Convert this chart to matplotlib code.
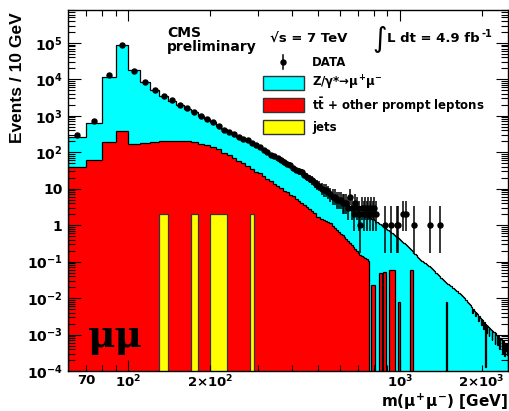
import numpy as np
import matplotlib
matplotlib.use('Agg')
import matplotlib.pyplot as plt
from matplotlib.patches import Rectangle
from matplotlib.lines import Line2D
from matplotlib.ticker import FixedLocator, LogLocator, FuncFormatter, NullFormatter

plt.rcParams['font.family'] = ['DejaVu Sans']
plt.rcParams['font.weight'] = 'bold'
plt.rcParams['mathtext.fontset'] = 'custom'
plt.rcParams['mathtext.rm'] = 'DejaVu Sans:bold'
plt.rcParams['mathtext.it'] = 'DejaVu Sans:bold'
plt.rcParams['mathtext.bf'] = 'DejaVu Sans:bold'

# binning: 10 GeV bins from 60 to 2500 GeV
m_lo, m_hi, bin_width = 60, 2500, 10

# log10 of the full stack (Z/gamma* + ttbar + jets), one value per bin starting at 60 GeV
tot_log = [
    2.42, 2.80, 4.06, 4.93, 4.25, 3.92, 3.70, 3.55, 3.42, 3.30,
    3.20, 3.10, 3.00, 2.90, 2.82, 2.72, 2.64, 2.56, 2.49, 2.43,
    2.37, 2.31, 2.25, 2.19, 2.12, 2.05, 1.99, 1.94, 1.89, 1.84,
    1.79, 1.75, 1.69, 1.63, 1.57, 1.52, 1.47, 1.42, 1.38, 1.33,
    1.28, 1.22, 1.16, 1.11, 1.07, 1.03, 0.98, 0.95, 0.90, 0.86,
    0.82, 0.78, 0.75, 0.71, 0.68, 0.64, 0.61, 0.58, 0.55, 0.52,
    0.49, 0.47, 0.44, 0.42, 0.39, 0.36, 0.34, 0.31, 0.29, 0.26,
    0.23, 0.21, 0.18, 0.16, 0.13, 0.10, 0.08, 0.05, 0.02, 0.00,
    -0.03, -0.05, -0.08, -0.11, -0.13, -0.16, -0.19, -0.21, -0.24, -0.27,
    -0.29, -0.32, -0.35, -0.37, -0.40, -0.43, -0.46, -0.49, -0.51, -0.54,
    -0.57, -0.60, -0.63, -0.66, -0.69, -0.72, -0.75, -0.78, -0.80, -0.83,
    -0.86, -0.89, -0.92, -0.95, -0.97, -0.99, -1.01, -1.03, -1.05, -1.07,
    -1.09, -1.11, -1.13, -1.15, -1.17, -1.20, -1.22, -1.25, -1.27, -1.30,
    -1.32, -1.35, -1.37, -1.40, -1.42, -1.44, -1.46, -1.48, -1.50, -1.52,
    -1.54, -1.56, -1.58, -1.60, -1.62, -1.64, -1.65, -1.67, -1.68, -1.70,
    -1.72, -1.73, -1.75, -1.76, -1.78, -1.80, -1.81, -1.83, -1.85, -1.87,
    -1.88, -1.90, -1.92, -1.94, -1.96, -1.98, -2.00, -2.02, -2.04, -2.06,
    -2.08, -2.10, -2.13, -2.15, -2.17, -2.19, -2.22, -2.24, -2.26, -2.40,
    -2.30, -2.33, -2.35, -2.50, -2.39, -2.41, -2.43, -2.45, -2.62, -2.49,
    -2.50, -2.52, -2.54, -2.75, -2.58, -2.60, -2.62, -2.85, -2.66, -2.68,
    -3.90, -2.71, -2.95, -2.75, -2.76, -2.78, -3.05, -2.81, -2.82, -2.84,
    -2.85, -2.87, -3.15, -2.90, -2.91, -2.93, -2.94, -3.25, -2.97, -2.98,
    -3.00, -3.01, -3.30, -3.04, -3.05, -3.06, -3.40, -3.09, -3.10, -3.12,
    -3.13, -3.14, -3.50, -3.17, -3.18, -3.19, -3.60, -3.22, -3.23, -3.24,
    -3.45, -3.26, -3.55, -3.29,
]

# log10 of ttbar + jets (None = empty bin)
ttbar_log = [
    1.60, 1.78, 2.27, 2.58, 2.24, 2.26, 2.28, 2.31, 2.32, 2.31,
    2.30, 2.27, 2.24, 2.19, 2.14, 2.08, 1.98, 1.92, 1.85, 1.76,
    1.70, 1.62, 1.55, 1.45, 1.43, 1.35, 1.28, 1.20, 1.14, 1.08,
    1.02, 0.95, 0.90, 0.82, 0.80, 0.72, 0.66, 0.62, 0.55, 0.50,
    0.44, 0.40, 0.33, 0.23, 0.22, 0.18, 0.15, 0.12, 0.10, 0.05,
    -0.02, -0.08, -0.12, -0.20, -0.23, -0.28, -0.33, -0.38, -0.44, -0.50,
    -0.55, -0.60, -0.65, -0.70, -0.76, -0.82, -0.85, -0.88, -0.90, -0.93,
    -0.98, None, -1.64, -1.64, -1.64, None, None, None, -1.30, -1.30,
    None, -1.28, -1.28, None, None, -1.23, -1.23, -1.23, -1.23, -1.23,
    None, None, -2.10, -2.10, None, None, None, None, None, None,
    None, None, None, -1.23, -1.23, -1.23, None, None, None, None,
    None, None, None, None, None, None, None, None, None, None,
    None, None, None, None, None, None, None, None, None, None,
    None, None, None, None, None, None, None, None, None, None,
    None, None, -2.10,
]

# jets: bins (lower edge, GeV) and content
jets_bins = [130, 170, 200, 210, 220, 280]
jets_val = 2.0

# data counts per bin starting at 60 GeV (bins not listed are empty)
data_counts = [
    290, 720, 13000, 88000, 17500, 8400, 5200, 3600, 2650, 2000,
    1600, 1300, 1000, 800, 680, 520, 420, 360, 320, 265,
    230, 215, 180, 155, 140, 118, 102, 85, 78, 70,
    63, 55, 48, 45, 36, 32, 30, 28, 24, 21,
    19, 17, 14, 13, 12, 10, 9, 9, 8, 7,
    6, 6, 5, 5, 5, 4, 4, 4, 3, 6,
    3, 2, 4, 3, 2, 1, 3, 2, 3, 2,
    3, 2, 3, 2, 3, 2, 0, 0, 0, 0,
    0, 0, 1, 0, 0, 0, 1, 0, 0, 0,
    0, 1, 1, 0, 0, 0, 2, 0, 0, 2,
    0, 0, 0, 0, 0, 0, 1, 0, 0, 0,
    0, 0, 0, 0, 0, 0, 0, 0, 0, 0,
    0, 0, 0, 1, 0, 0, 0, 0, 0, 0,
    0, 0, 0, 0, 1,
]

# 68% Poisson (Garwood) intervals for small counts
garwood = {1: (0.173, 3.300), 2: (0.708, 4.638), 3: (1.367, 5.918), 4: (2.086, 7.163),
           5: (2.840, 8.382), 6: (3.620, 9.584), 7: (4.419, 10.77), 8: (5.232, 11.95),
           9: (6.057, 13.11), 10: (6.891, 14.27)}

edges = np.arange(m_lo, m_hi + bin_width, bin_width)
nb = len(edges) - 1
centers = 0.5 * (edges[:-1] + edges[1:])
tiny = 1e-9

def pad(lst, fill):
    return list(lst) + [fill] * (nb - len(lst))

tot = 10.0 ** np.array(tot_log)
ttb = np.array([10.0 ** v if v is not None else tiny for v in pad(ttbar_log, None)])
jets = np.full(nb, tiny)
for lo in jets_bins:
    jets[(lo - m_lo) // bin_width] = jets_val
counts = np.array(pad(data_counts, 0), dtype=float)

W, H = 509, 411
fig = plt.figure(figsize=(W / 100, H / 100), dpi=100)
ax = fig.add_axes([68 / W, 1 - 371 / H, 440 / W, 361 / H])

ax.stairs(tot, edges, baseline=tiny, fill=True, facecolor='#00ffff', edgecolor='black', linewidth=0.9)
ax.stairs(ttb, edges, baseline=tiny, fill=True, facecolor='#ff0000', edgecolor='black', linewidth=0.9)
ax.stairs(jets, edges, baseline=tiny, fill=True, facecolor='#ffff00', edgecolor='#333333', linewidth=0.9)

sel = counts > 0
n = counts[sel]
lo_err, hi_err = [], []
for v in n:
    if v in garwood:
        a, b = garwood[int(v)]
    else:
        a, b = v - np.sqrt(v), v + np.sqrt(v) + 1
    lo_err.append(v - a)
    hi_err.append(b - v)
ax.errorbar(centers[sel], n, yerr=[lo_err, hi_err], fmt='o', color='black',
            markersize=3.6, elinewidth=1.1, capsize=0, zorder=5)

ax.set_xscale('log')
ax.set_yscale('log')
ax.set_xlim(m_lo, m_hi)
ax.set_ylim(1e-4, 8e5)

# x ticks
ax.xaxis.set_major_locator(FixedLocator([100, 1000]))
ax.xaxis.set_minor_locator(FixedLocator([70, 80, 90, 200, 300, 400, 500, 600, 700, 800, 900, 2000]))
xlabels = {70: '70', 100: '10$^{2}$', 200: '2$\\times$10$^{2}$', 1000: '10$^{3}$', 2000: '2$\\times$10$^{3}$'}
xfmt = FuncFormatter(lambda v, p: xlabels.get(int(round(v)), ''))
ax.xaxis.set_major_formatter(xfmt)
ax.xaxis.set_minor_formatter(xfmt)

# y ticks
ax.yaxis.set_major_locator(LogLocator(base=10, numticks=20))
ax.yaxis.set_minor_locator(LogLocator(base=10, subs=np.arange(2, 10), numticks=20))
def yfmt(v, p):
    e = int(round(np.log10(v)))
    if e == 0:
        return '1'
    if e == 1:
        return '10'
    return '10$^{%d}$' % e
ax.yaxis.set_major_formatter(FuncFormatter(yfmt))
ax.yaxis.set_minor_formatter(NullFormatter())

ax.tick_params(which='both', direction='in', top=True, right=True, width=0.8, labelsize=10)
ax.tick_params(axis='y', which='major', length=9, pad=4)
ax.tick_params(axis='y', which='minor', length=5)
ax.tick_params(axis='x', which='major', length=8, pad=2)
ax.tick_params(axis='x', which='minor', length=4, pad=2)
ax.tick_params(axis='x', which='both', labelsize=9.5)
for s in ax.spines.values():
    s.set_linewidth(1.0)

def fx(x):
    return x / W

def fy(y):
    return 1 - y / H

# axis titles
fig.text(fx(18), fy(12), 'Events / 10 GeV', rotation=90, ha='center', va='top',
         fontsize=12.5, family='Liberation Sans', fontweight='bold')
fig.text(fx(508), fy(407), 'm($\\mu^{+}\\mu^{-}$) [GeV]', ha='right', va='baseline', fontsize=11)

# labels
fig.text(fx(167), fy(33), 'CMS', fontsize=10, va='center')
fig.text(fx(167), fy(47), 'preliminary', fontsize=10, va='center')
fig.text(fx(270), fy(39), '\u221as = 7 TeV', fontsize=9.5, va='center')
fig.text(fx(372), fy(39), '\u222b', fontsize=20, va='center', fontweight='normal')
fig.text(fx(387), fy(39), 'L dt = 4.9 fb', fontsize=9.5, va='center')
fig.text(fx(482), fy(34), '-1', fontsize=7, va='center')
fig.text(fx(88), fy(347), '\u03bc\u03bc', fontsize=27, family='DejaVu Serif', fontweight='bold', va='baseline')

# legend
fig.add_artist(Line2D([fx(283), fx(283)], [fy(55), fy(69)], color='black', lw=1.1))
fig.add_artist(Line2D([fx(283)], [fy(62)], marker='o', color='black', markersize=3.6))
fig.text(fx(312), fy(62), 'DATA', fontsize=8.5, va='center')
entries = [('#00ffff', 'Z/\u03b3*\u2192$\\mu^{+}\\mu^{-}$', 83),
           ('#ff0000', '$t\\bar{t}$ + other prompt leptons', 105),
           ('#ffff00', 'jets', 127)]
for col, lab, yc in entries:
    fig.add_artist(Rectangle((fx(263), fy(yc + 7)), fx(304) - fx(263), (14) / H,
                             facecolor=col, edgecolor='#333333', lw=1.0, transform=fig.transFigure))
    fig.text(fx(312), fy(yc), lab, fontsize=8.5, va='center')

fig.savefig('out.png', dpi=100)
